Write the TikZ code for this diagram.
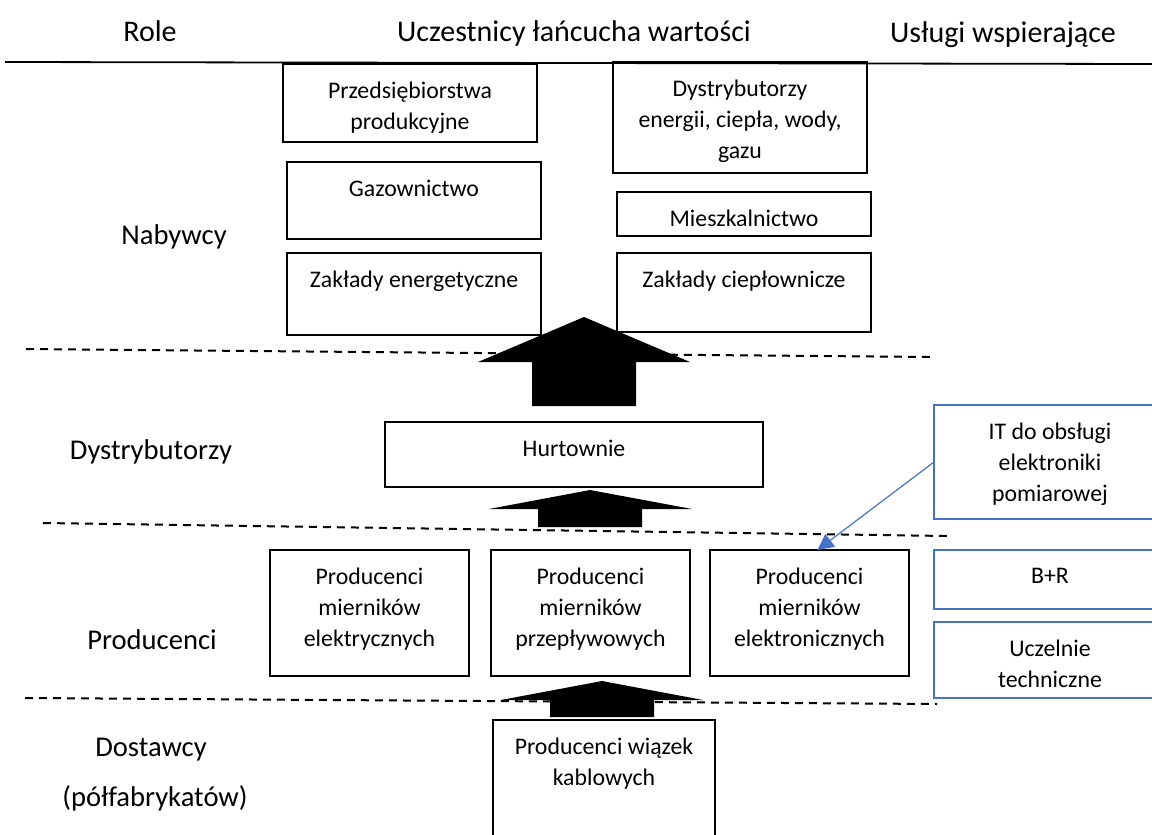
\documentclass[tikz,border=0pt]{standalone}
\usepackage{fontspec}
\setmainfont{Carlito}
\usetikzlibrary{arrows.meta}
\definecolor{itblue}{HTML}{4472C4}
\newcommand{\boxfont}{\fontsize{11.9}{15.5}\selectfont}
\newcommand{\rolefont}{\fontsize{14.3}{17}\selectfont}
\newcommand{\headfont}{\fontsize{15}{18}\selectfont}

\begin{document}
\begin{tikzpicture}[x=0.5pt, y=-0.5pt,
  box/.style={draw, line width=0.75pt, inner sep=0pt, outer sep=0pt, anchor=north west},
  bluebox/.style={box, draw=itblue, line width=1.3pt},
  boxtext/.style={font=\boxfont, align=center, anchor=north, inner sep=0pt},
  role/.style={font=\rolefont, anchor=base, inner sep=0pt},
  head/.style={role, font=\headfont},
  tier/.style={line width=1pt, dash pattern=on 4pt off 3pt},
  flow/.style={fill=black},
]
\useasboundingbox (0,0) rectangle (1152,835);

% headers
\node[head] (h-role) at (150,41) {Role};
\node[head] (h-chain) at (574,41) {Uczestnicy łańcucha wartości};
\node[head] (h-supp) at (1003,42) {Usługi wspierające};
\draw[line width=0.9pt] (5,62) -- (1152,64);

% roles on the left
\node[role] (r-buy) at (174,244) {Nabywcy};
\node[role] (r-dist) at (151,459) {Dystrybutorzy};
\node[role] (r-prod) at (152,649) {Producenci};
\node[role] (r-supl) at (151,756) {Dostawcy};
\node[role] (r-semi) at (155,806) {(półfabrykatów)};

% tier borders
\draw[tier] (26,349) -- (930,357);
\draw[tier] (43,523) -- (947,536);
\draw[tier] (25,698) -- (937,704);

% buyers
\node[box, minimum width=127pt, minimum height=39pt] (prz) at (283,64) {};
\node[boxtext] (prz-t) at ([yshift=-9pt]prz.north) {Przedsiębiorstwa\\produkcyjne};
\node[box, minimum width=127pt, minimum height=55.5pt] (dys) at (613,62) {};
\node[boxtext] (dys-t) at ([yshift=-9pt]dys.north) {Dystrybutorzy\\energii, ciepła, wody,\\gazu};
\node[box, minimum width=127pt, minimum height=38.5pt] (gaz) at (287,162) {};
\node[boxtext] (gaz-t) at ([yshift=-9pt]gaz.north) {Gazownictwo};
\node[box, minimum width=127pt, minimum height=22pt] (mie) at (617,192) {};
\node[boxtext] (mie-t) at ([yshift=-9pt]mie.north) {Mieszkalnictwo};
\node[box, minimum width=127pt, minimum height=41pt] (zen) at (287,253) {};
\node[boxtext] (zen-t) at ([yshift=-9pt]zen.north) {Zakłady energetyczne};
\node[box, minimum width=127pt, minimum height=39.5pt] (zci) at (617,253) {};
\node[boxtext] (zci-t) at ([yshift=-9pt]zci.north) {Zakłady ciepłownicze};

% distributors
\node[box, minimum width=189pt, minimum height=32.5pt] (hur) at (385,422) {};
\node[boxtext] (hur-t) at ([yshift=-9pt]hur.north) {Hurtownie};

% producers
\node[box, minimum width=99.5pt, minimum height=63pt] (pel) at (270,550) {};
\node[boxtext] (pel-t) at ([yshift=-9pt]pel.north) {Producenci\\mierników\\elektrycznych};
\node[box, minimum width=99.5pt, minimum height=63pt] (ppr) at (491,550) {};
\node[boxtext] (ppr-t) at ([yshift=-9pt]ppr.north) {Producenci\\mierników\\przepływowych};
\node[box, minimum width=99.5pt, minimum height=63pt] (pen) at (710,550) {};
\node[boxtext] (pen-t) at ([yshift=-9pt]pen.north) {Producenci\\mierników\\elektronicznych};

% suppliers
\node[box, minimum width=111pt, minimum height=70pt] (kab) at (493,720) {};
\node[boxtext] (kab-t) at ([yshift=-9pt]kab.north) {Producenci wiązek\\kablowych};

% support services
\node[bluebox, minimum width=116pt, minimum height=57pt] (it) at (934,405) {};
\node[boxtext] (it-t) at ([yshift=-9pt]it.north) {IT do obsługi\\elektroniki\\pomiarowej};
\node[bluebox, minimum width=116pt, minimum height=29.5pt] (br) at (934,550) {};
\node[boxtext] (br-t) at ([yshift=-9pt]br.north) {B+R};
\node[bluebox, minimum width=116pt, minimum height=38pt] (ucz) at (934,622) {};
\node[boxtext] (ucz-t) at ([yshift=-9pt]ucz.north) {Uczelnie\\techniczne};

\draw[itblue, line width=0.6pt, -{Triangle[length=8pt, width=8pt]}] (it.west) -- ([xshift=4pt]pen.north);

% flow between tiers
\fill[flow] (584,317) -- (690,362) -- (636,362) -- (636,406) -- (532,406) -- (532,362) -- (478,362) -- cycle;
\fill[flow] (590,490) -- (692,509) -- (642,509) -- (642,527) -- (538,527) -- (538,509) -- (489,509) -- cycle;
\fill[flow] (602,681) -- (703,700) -- (654,700) -- (654,717) -- (550,717) -- (550,700) -- (501,700) -- cycle;
\end{tikzpicture}
\end{document}
